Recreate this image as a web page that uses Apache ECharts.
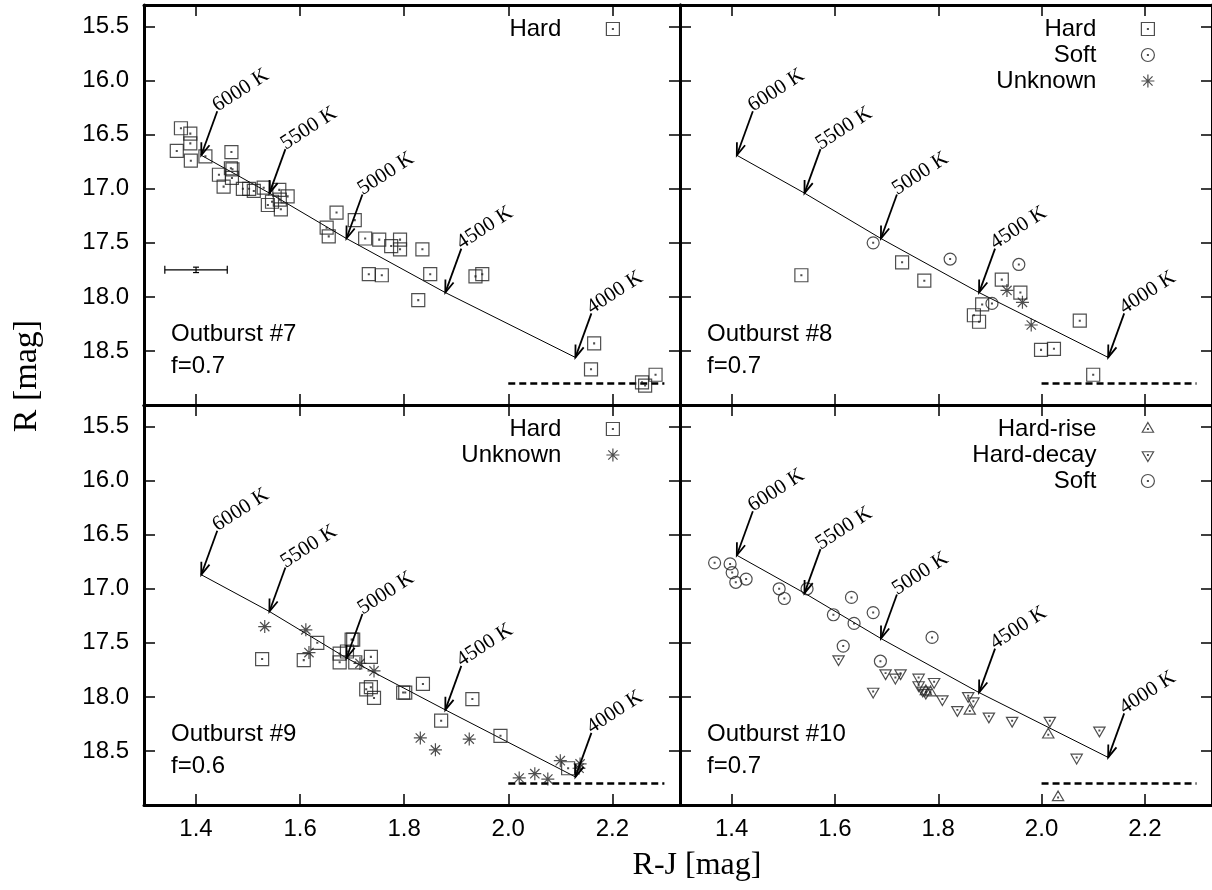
<!DOCTYPE html>
<html>
<head>
<meta charset="utf-8">
<script src="https://cdn.jsdelivr.net/npm/echarts@6/dist/echarts.min.js"></script>
<style>
  html, body { margin: 0; padding: 0; background: #fff; }
  #chart { width: 1212px; height: 890px; }
</style>
</head>
<body>
<div id="chart"></div>
<script>
// ---------------- data ----------------
const xTicks = [1.4, 1.6, 1.8, 2.0, 2.2];
const yTicks = [15.5, 16.0, 16.5, 17.0, 17.5, 18.0, 18.5];

const tempLabels = ['6000 K', '5500 K', '5000 K', '4500 K', '4000 K'];
const tempRJ = [1.410, 1.541, 1.689, 1.879, 2.129];
const tempR_f07 = [16.69, 17.04, 17.46, 17.96, 18.56];
const tempR_f06 = [16.87, 17.21, 17.64, 18.12, 18.74];

const limitRJ = [2.0, 2.3];
const limitR = 18.8;

const errRJ = 1.40, errR = 17.75, errDRJ = 0.06, errDR = 0.025;

// Outburst #7
const o7HardRJ = [1.371,1.389,1.389,1.363,1.390,1.418,1.468,1.467,1.470,1.469,1.444,1.453,1.490,1.502,1.511,1.530,1.560,1.576,1.538,1.546,1.561,1.563,1.670,1.705,1.651,1.655,1.725,1.752,1.775,1.792,1.792,1.835,1.732,1.757,1.850,1.937,1.950,1.827,2.165,2.159,2.283,2.257,2.263];
const o7HardR  = [16.44,16.49,16.58,16.65,16.74,16.70,16.66,16.81,16.82,16.90,16.87,16.98,17.00,17.00,17.02,16.99,17.01,17.07,17.15,17.12,17.10,17.19,17.22,17.29,17.36,17.44,17.46,17.47,17.53,17.47,17.56,17.56,17.79,17.80,17.79,17.81,17.79,18.03,18.43,18.67,18.72,18.79,18.82];

// Outburst #8
const o8HardRJ = [1.535,1.730,1.773,1.923,1.959,1.885,1.869,1.879,2.074,1.999,2.024,2.100];
const o8HardR  = [17.80,17.68,17.85,17.84,17.96,18.07,18.17,18.23,18.22,18.49,18.48,18.72];
const o8SoftRJ = [1.674,1.823,1.956,1.904];
const o8SoftR  = [17.50,17.65,17.70,18.06];
const o8UnkRJ  = [1.933,1.963,1.980];
const o8UnkR   = [17.94,18.05,18.26];

// Outburst #9
const o9HardRJ = [1.527,1.607,1.633,1.676,1.676,1.699,1.702,1.690,1.706,1.736,1.727,1.736,1.742,1.798,1.802,1.836,1.931,1.871,1.985,2.115];
const o9HardR  = [17.65,17.66,17.50,17.60,17.68,17.47,17.47,17.58,17.68,17.63,17.93,17.91,18.01,17.96,17.96,17.88,18.02,18.22,18.36,18.66];
const o9UnkRJ  = [1.532,1.611,1.617,1.715,1.742,1.831,1.860,1.925,2.100,2.138,2.136,2.021,2.051,2.076];
const o9UnkR   = [17.35,17.38,17.59,17.69,17.76,18.38,18.49,18.39,18.59,18.62,18.66,18.75,18.71,18.76];

// Outburst #10
const o10SoftRJ  = [1.367,1.397,1.401,1.408,1.428,1.492,1.502,1.546,1.632,1.597,1.637,1.616,1.674,1.788,1.688];
const o10SoftR   = [16.76,16.77,16.85,16.94,16.91,17.00,17.09,17.00,17.08,17.24,17.32,17.53,17.22,17.45,17.67];
const o10DecayRJ = [1.607,1.674,1.698,1.717,1.727,1.762,1.762,1.770,1.776,1.792,1.808,1.837,1.858,1.868,1.898,1.943,2.016,2.112,2.068];
const o10DecayR  = [17.65,17.95,17.78,17.82,17.78,17.82,17.89,17.94,17.96,17.86,18.02,18.12,17.99,18.04,18.18,18.22,18.22,18.31,18.56];
const o10RiseRJ  = [1.776,1.785,1.861,2.013,2.032];
const o10RiseR   = [17.95,17.96,18.13,18.35,18.93];

const panelTitles = [['Outburst #7', 'f=0.7'], ['Outburst #8', 'f=0.7'], ['Outburst #9', 'f=0.6'], ['Outburst #10', 'f=0.7']];

// ---------------- styling / layout ----------------
const GRIDS = [{left: 144, top: 5}, {left: 680, top: 5}, {left: 144, top: 405}, {left: 680, top: 405}];
const GW = 536, GH = 400;
const SANS = '"Liberation Sans", Arial, sans-serif';
const SERIF = '"Liberation Serif", "Times New Roman", serif';
const INK = '#222';

const DOT = 'M-0.4,-0.4L0.4,-0.4L0.4,0.4L-0.4,0.4Z';
const SYM_SQ = 'path://M-6,-6L6,-6L6,6L-6,6Z' + DOT;
const SYM_CI = 'path://M6,0A6,6,0,1,1,-6,0A6,6,0,1,1,6,0Z' + DOT;
const SYM_ST = 'path://M0,-6L0,6M-6,0L6,0M-4.3,-4.3L4.3,4.3M-4.3,4.3L4.3,-4.3';
const SYM_TU = 'path://M0,-6.9L6,3.45L-6,3.45ZM0,6.9L0,6.9' + DOT;
const SYM_TD = 'path://M0,6.9L6,-3.45L-6,-3.45ZM0,-6.9L0,-6.9' + DOT;

function zip(a, b) { return a.map((v, i) => [v, Array.isArray(b) ? b[i] : b]); }

function scat(name, rj, r, gi, sym, size) {
  return {
    type: 'scatter', name: name, xAxisIndex: gi, yAxisIndex: gi,
    data: zip(rj, r), symbol: sym, symbolSize: size || 13, symbolKeepAspect: true,
    itemStyle: {color: 'transparent', borderColor: INK, borderWidth: 1.2},
    emphasis: {disabled: true}, z: 4, silent: true
  };
}

function tempLine(gi, rArr) {
  return {
    type: 'line', xAxisIndex: gi, yAxisIndex: gi, data: zip(tempRJ, rArr),
    showSymbol: false, symbol: 'none', lineStyle: {color: '#000', width: 1}, z: 2, silent: true
  };
}

function arrowRender(params, api) {
  const tip = api.coord([api.value(0), api.value(1)]);
  const tail = [tip[0] + 16, tip[1] - 44];
  const vx = tip[0] - tail[0], vy = tip[1] - tail[1];
  const len = Math.hypot(vx, vy);
  const bx = -vx / len, by = -vy / len;
  const hl = 13, ha = 0.34, c = Math.cos(ha), s = Math.sin(ha);
  const w1 = [tip[0] + hl * (bx * c - by * s), tip[1] + hl * (bx * s + by * c)];
  const w2 = [tip[0] + hl * (bx * c + by * s), tip[1] + hl * (-bx * s + by * c)];
  return {
    type: 'group', children: [
      {type: 'line', shape: {x1: tail[0], y1: tail[1], x2: tip[0], y2: tip[1]}, style: {stroke: '#000', lineWidth: 1.8}},
      {type: 'polyline', shape: {points: [w1, tip, w2]}, style: {stroke: '#000', lineWidth: 1.8, fill: null}},
      {type: 'text', x: tail[0] + 3, y: tail[1] + 5, rotation: 33 * Math.PI / 180,
       style: {text: tempLabels[params.dataIndex], font: '21px ' + SERIF, fill: '#000',
               align: 'left', verticalAlign: 'bottom', textAlign: 'left', textVerticalAlign: 'bottom'}}
    ]
  };
}

function arrows(gi, rArr) {
  return {type: 'custom', xAxisIndex: gi, yAxisIndex: gi, data: zip(tempRJ, rArr),
          renderItem: arrowRender, z: 5, silent: true};
}

function limitLine(gi) {
  return {
    type: 'line', xAxisIndex: gi, yAxisIndex: gi, data: zip(limitRJ, limitR),
    showSymbol: false, symbol: 'none', lineStyle: {color: '#000', width: 2.5, type: [7, 4]}, z: 2, silent: true
  };
}

const errorBar = {
  type: 'custom', xAxisIndex: 0, yAxisIndex: 0, data: [[errRJ, errR, errDRJ, errDR]], silent: true, z: 5,
  renderItem: function (params, api) {
    const x = api.value(0), y = api.value(1), dx = api.value(2), dy = api.value(3);
    const pl = api.coord([x - dx, y]), pr = api.coord([x + dx, y]);
    const pt = api.coord([x, y - dy]), pb = api.coord([x, y + dy]);
    const st = {stroke: '#000', lineWidth: 1.2};
    const L = (a, b, c, d) => ({type: 'line', shape: {x1: a, y1: b, x2: c, y2: d}, style: st});
    return {type: 'group', children: [
      L(pl[0], pl[1], pr[0], pr[1]),
      L(pl[0], pl[1] - 4, pl[0], pl[1] + 4),
      L(pr[0], pr[1] - 4, pr[0], pr[1] + 4),
      L(pt[0], pt[1], pb[0], pb[1]),
      L(pt[0] - 3, pt[1], pt[0] + 3, pt[1]),
      L(pb[0] - 3, pb[1], pb[0] + 3, pb[1])
    ]};
  }
};

// ---------------- axes ----------------
const axisLineStyle = {show: true, onZero: false, lineStyle: {color: '#000', width: 3}};
const tickStyle = {color: '#000', width: 1.5};
const xAxes = [], yAxes = [];
for (let k = 0; k < 8; k++) {
  const gi = k % 4, main = k < 4;
  xAxes.push({
    gridIndex: gi, type: 'value', min: 1.3, max: 2.33, position: main ? 'bottom' : 'top',
    axisLine: axisLineStyle,
    axisTick: {show: true, inside: true, length: 11, customValues: xTicks, lineStyle: tickStyle},
    axisLabel: {show: main && gi >= 2, customValues: xTicks, formatter: v => v.toFixed(1),
                fontSize: 24, fontFamily: SANS, color: '#000', margin: 12},
    splitLine: {show: false}
  });
  yAxes.push({
    gridIndex: gi, type: 'value', min: 15.3, max: 19.0, inverse: true, position: main ? 'left' : 'right',
    axisLine: axisLineStyle,
    axisTick: {show: true, inside: true, length: 11, customValues: yTicks, lineStyle: tickStyle},
    axisLabel: {show: main && (gi === 0 || gi === 2), customValues: yTicks, formatter: v => v.toFixed(1),
                fontSize: 24, fontFamily: SANS, color: '#000', margin: 15},
    splitLine: {show: false}
  });
}

// ---------------- legends ----------------
const legendCommon = {
  orient: 'vertical', align: 'right', padding: 0, itemWidth: 13, itemHeight: 13, itemGap: 0,
  selectedMode: false,
  textStyle: {fontSize: 24, fontFamily: SANS, color: '#000', lineHeight: 26, padding: [0, 40, 0, 0]},
  itemStyle: {color: 'transparent', borderColor: INK, borderWidth: 1.2}
};
const legends = [
  Object.assign({data: ['Hard'], right: 592, top: 16}, legendCommon),
  Object.assign({data: ['Hard', 'Soft', 'Unknown'], right: 57, top: 16}, legendCommon),
  Object.assign({data: ['Hard', 'Unknown'], right: 592, top: 416}, legendCommon),
  Object.assign({data: ['Hard-rise', 'Hard-decay', 'Soft'], right: 57, top: 416}, legendCommon)
];

// ---------------- graphic text ----------------
const graphics = [
  {type: 'text', x: 697, y: 866, style: {text: 'R-J [mag]', font: '32px ' + SERIF, fill: '#000', align: 'center', verticalAlign: 'middle'}},
  {type: 'text', x: 27, y: 376, rotation: Math.PI / 2, style: {text: 'R [mag]', font: '34px ' + SERIF, fill: '#000', align: 'center', verticalAlign: 'middle'}}
];
GRIDS.forEach((g, i) => {
  graphics.push({type: 'text', x: g.left + 27, y: g.top + 329, style: {text: panelTitles[i][0], font: '24px ' + SANS, fill: '#000', align: 'left', verticalAlign: 'middle'}});
  graphics.push({type: 'text', x: g.left + 27, y: g.top + 361, style: {text: panelTitles[i][1], font: '24px ' + SANS, fill: '#000', align: 'left', verticalAlign: 'middle'}});
});

// ---------------- series ----------------
const series = [
  tempLine(0, tempR_f07), arrows(0, tempR_f07), limitLine(0), errorBar,
  scat('Hard', o7HardRJ, o7HardR, 0, SYM_SQ),

  tempLine(1, tempR_f07), arrows(1, tempR_f07), limitLine(1),
  scat('Hard', o8HardRJ, o8HardR, 1, SYM_SQ),
  scat('Soft', o8SoftRJ, o8SoftR, 1, SYM_CI, 12),
  scat('Unknown', o8UnkRJ, o8UnkR, 1, SYM_ST),

  tempLine(2, tempR_f06), arrows(2, tempR_f06), limitLine(2),
  scat('Hard', o9HardRJ, o9HardR, 2, SYM_SQ),
  scat('Unknown', o9UnkRJ, o9UnkR, 2, SYM_ST),

  tempLine(3, tempR_f07), arrows(3, tempR_f07), limitLine(3),
  scat('Hard-rise', o10RiseRJ, o10RiseR, 3, SYM_TU, 13),
  scat('Hard-decay', o10DecayRJ, o10DecayR, 3, SYM_TD, 13),
  scat('Soft', o10SoftRJ, o10SoftR, 3, SYM_CI, 12)
];

const chart = echarts.init(document.getElementById('chart'), null, {renderer: 'canvas'});
chart.setOption({
  animation: false,
  backgroundColor: '#fff',
  grid: GRIDS.map(g => ({left: g.left, top: g.top, width: GW, height: GH, containLabel: false})),
  xAxis: xAxes,
  yAxis: yAxes,
  legend: legends,
  graphic: graphics,
  series: series
});
</script>
</body>
</html>
